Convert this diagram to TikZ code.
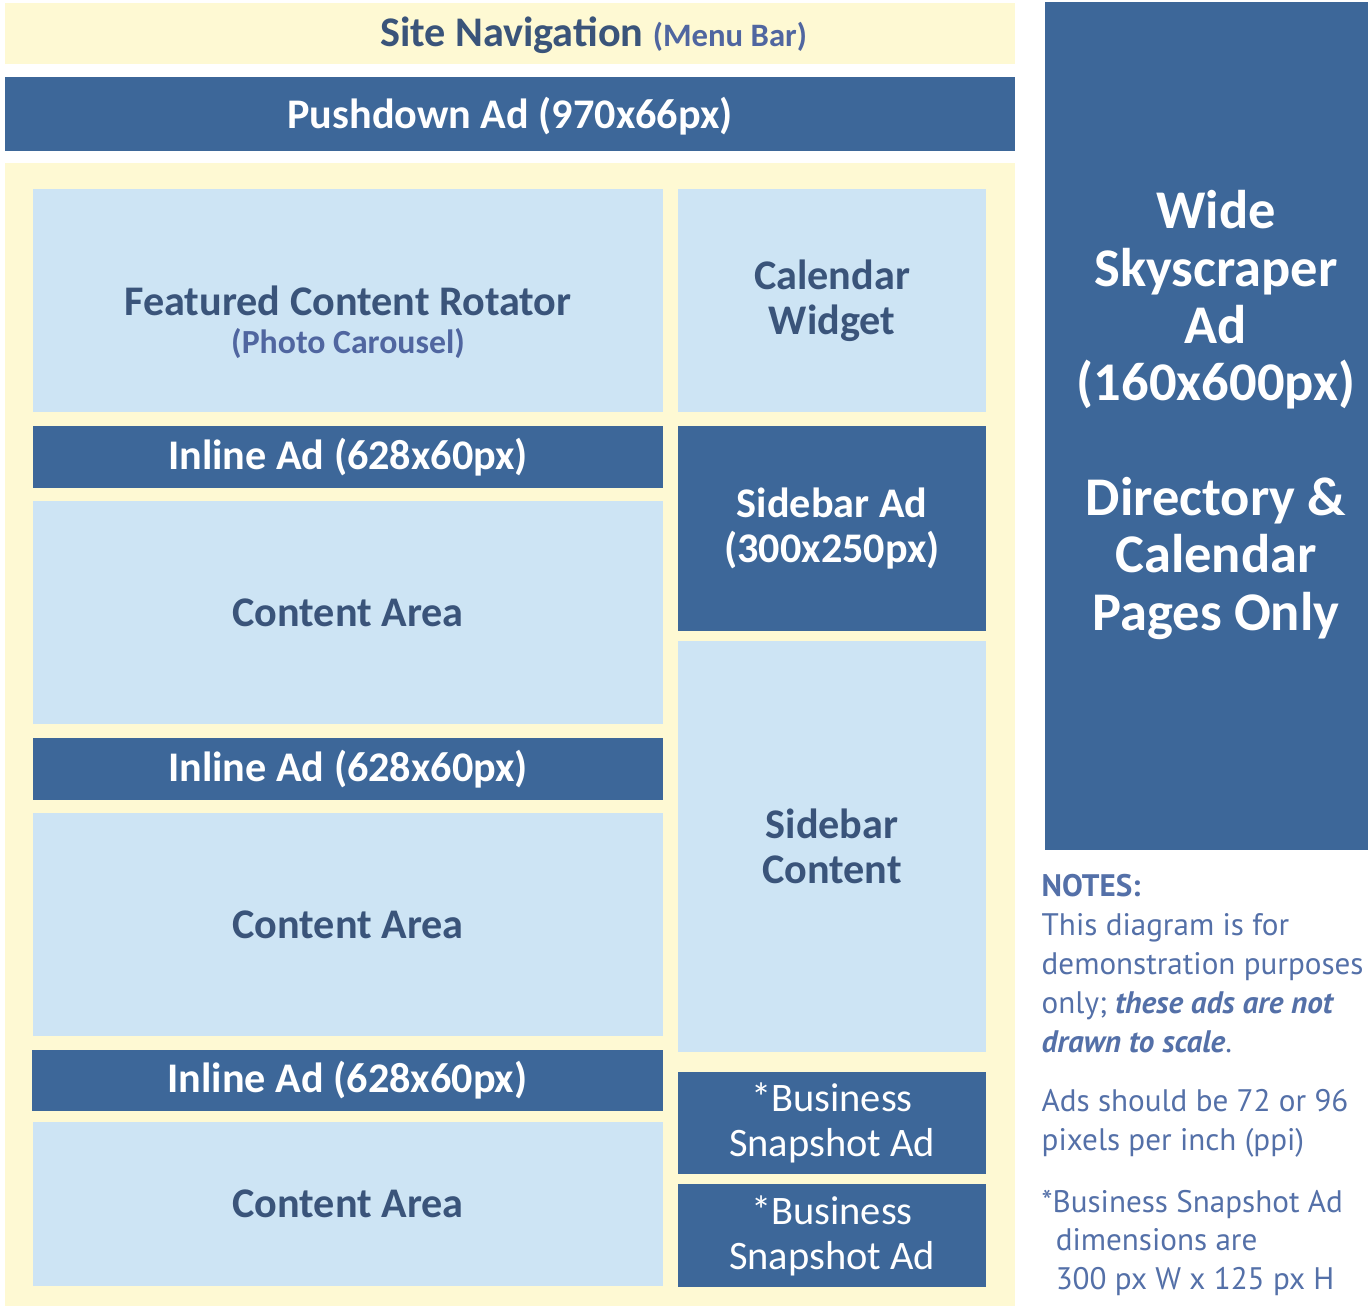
\documentclass[tikz,border=0pt]{standalone}
\usepackage{fontspec}
\setmainfont{Carlito}
\newfontfamily\notesfont{PT Sans}
\usetikzlibrary{positioning}
\definecolor{adblue}{RGB}{61,103,153}
\definecolor{paneblue}{RGB}{205,228,244}
\definecolor{cream}{RGB}{254,249,211}
\definecolor{darktext}{RGB}{58,84,122}
\definecolor{softtext}{RGB}{80,102,160}
\definecolor{notetext}{RGB}{84,112,168}
\tikzstyle{adbox} = [fill=adblue,text=white,inner sep=0pt,align=center,font=\bfseries\fontsize{12}{12.7}\selectfont]
\tikzstyle{panebox} = [fill=paneblue,text=darktext,inner sep=0pt,align=center,font=\bfseries\fontsize{12}{12.7}\selectfont]
\tikzstyle{bizbox} = [adbox,font=\fontsize{11.5}{12.8}\selectfont]

\begin{document}
\begin{tikzpicture}[x=0.01cm,y=-0.01cm]
  \useasboundingbox (0,0) rectangle (1372,1306);
  % top bars
  \node[fill=cream,inner sep=0pt,minimum width=10.10cm,minimum height=0.61cm] (nav) at (510,33.5) {};
  \node[text=darktext,inner sep=0pt,font=\bfseries\fontsize{12}{13.5}\selectfont] (navtext) at (593.5,35)
    {Site Navigation {\color{softtext}\fontsize{9.3}{11}\selectfont(Menu Bar)}};
  \node[adbox,minimum width=10.10cm,minimum height=0.74cm] (push) at (510,114) {};
  \node[text=white,inner sep=0pt,font=\bfseries\fontsize{12}{12.7}\selectfont] (pushtext) at (510,116)
    {Pushdown Ad (970x66px)};
  % main panel
  \node[fill=cream,inner sep=0pt,minimum width=10.10cm,minimum height=11.43cm] (panel) at (510,734.5) {};
  % left column
  \node[panebox,minimum width=6.30cm,minimum height=2.23cm] (feat) at (348,300.5) {};
  \node[text=darktext,align=center,inner sep=0pt,font=\bfseries\fontsize{12}{13.5}\selectfont] (feattext)
    at (348,322) {Featured Content Rotator\\[-2.7pt]{\color{softtext}\fontsize{9.6}{11}\selectfont(Photo Carousel)}};
  \node[adbox,minimum width=6.30cm,minimum height=0.62cm] (inline1) at (348,457) {Inline Ad (628x60px)};
  \node[panebox,minimum width=6.30cm,minimum height=2.23cm] (content1) at (348,612.5) {Content Area};
  \node[adbox,minimum width=6.30cm,minimum height=0.62cm] (inline2) at (348,769) {Inline Ad (628x60px)};
  \node[panebox,minimum width=6.30cm,minimum height=2.23cm] (content2) at (348,924.5) {Content Area};
  \node[adbox,minimum width=6.31cm,minimum height=0.61cm] (inline3) at (347.5,1080.5) {Inline Ad (628x60px)};
  \node[panebox,minimum width=6.30cm,minimum height=1.64cm] (content3) at (348,1204) {Content Area};
  % right column
  \node[panebox,minimum width=3.08cm,minimum height=2.23cm] (cal) at (832,300.5) {Calendar\\Widget};
  \node[adbox,minimum width=3.08cm,minimum height=2.05cm] (sidead) at (832,528.5) {Sidebar Ad\\(300x250px)};
  \node[panebox,minimum width=3.08cm,minimum height=4.11cm] (sidecontent) at (832,846.5) {Sidebar\\Content};
  \node[bizbox,minimum width=3.08cm,minimum height=1.02cm] (biz1) at (832,1123) {*Business\\Snapshot Ad};
  \node[bizbox,minimum width=3.08cm,minimum height=1.03cm] (biz2) at (832,1235.5) {*Business\\Snapshot Ad};
  % skyscraper
  \node[adbox,minimum width=3.23cm,minimum height=8.48cm] (sky) at (1206.5,426) {};
  \node[text=white,align=center,inner sep=0pt,font=\bfseries\fontsize{15.5}{16.3}\selectfont] (skytext)
    at (1216,415) {Wide\\Skyscraper\\Ad\\(160x600px)\\[16.3pt]Directory \&\\Calendar\\Pages Only};
  % notes
  \node[anchor=north west,text=notetext,align=left,inner sep=0pt,
    font=\notesfont\fontsize{8.85}{11.06}\selectfont] (notes) at (1041,874)
    {\textbf{NOTES:}\\This diagram is for\\demonstration purposes\\only; \textbf{\textit{these ads are not}}\\
     \textbf{\textit{drawn to scale}}.\\[5.7pt]Ads should be 72 or 96\\pixels per inch (ppi)\\[6.5pt]
     *Business Snapshot Ad\\\hspace*{4pt}dimensions are\\\hspace*{4pt}300 px W x 125 px H};
\end{tikzpicture}
\end{document}
